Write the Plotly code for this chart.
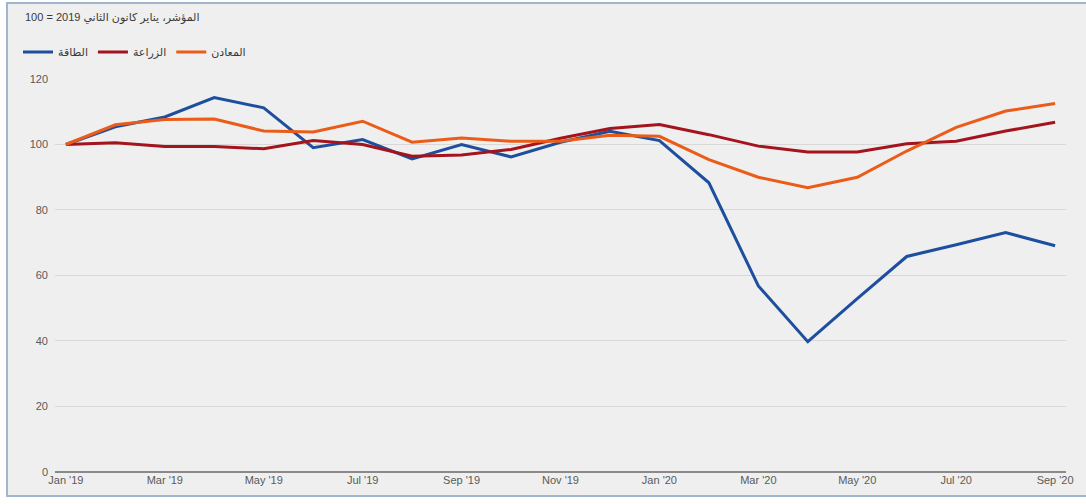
import plotly.graph_objects as go

# Monthly index, January 2019 = 100
months = ["Jan '19", "Feb '19", "Mar '19", "Apr '19", "May '19", "Jun '19", "Jul '19",
          "Aug '19", "Sep '19", "Oct '19", "Nov '19", "Dec '19", "Jan '20", "Feb '20",
          "Mar '20", "Apr '20", "May '20", "Jun '20", "Jul '20", "Aug '20", "Sep '20"]

energy = [100, 105.4, 108.4, 114.3, 111.2, 99.0, 101.5, 95.6, 100.0, 96.2, 100.7,
          104.0, 101.2, 88.3, 56.8, 39.8, 52.9, 65.8, 69.4, 73.1, 69.1]
agriculture = [100, 100.5, 99.4, 99.4, 98.7, 101.2, 100.0, 96.4, 96.8, 98.5, 101.9,
               104.9, 106.1, 103.0, 99.5, 97.7, 97.7, 100.2, 101.0, 104.1, 106.8]
metals = [100, 106.0, 107.6, 107.8, 104.1, 103.8, 107.1, 100.7, 102.0, 101.0, 101.0,
          102.8, 102.5, 95.4, 90.0, 86.8, 90.0, 98.0, 105.2, 110.2, 112.5]

series_names = ["الطاقة", "الزراعة", "المعادن"]
series_colors = ["#1d4f9e", "#a3141d", "#ea5c18"]
tick_months = months[::2]
y_ticks = [0, 20, 40, 60, 80, 100, 120]

title_text = "المؤشر، يناير كانون الثاني 2019 = 100"

fig = go.Figure()
for name, values, color in zip(series_names, [energy, agriculture, metals], series_colors):
    fig.add_trace(go.Scatter(
        x=months, y=values, name=name, mode="lines",
        line=dict(color=color, width=3),
    ))

font_family = "Arial, Liberation Sans, DejaVu Sans, sans-serif"

fig.update_layout(
    width=1086, height=504,
    margin=dict(l=55, r=20, t=78, b=32, autoexpand=False),
    paper_bgcolor="white",
    plot_bgcolor="rgba(0,0,0,0)",
    font=dict(family=font_family, size=11, color="#5a5a5a"),
    title=dict(
        text=title_text, x=25 / 1086, xref="container", xanchor="left",
        y=1 - 17 / 504, yref="container", yanchor="middle",
        font=dict(size=11, color="#3a3a3a"),
    ),
    legend=dict(
        orientation="h", x=18 / 1086, xref="container", xanchor="left",
        y=1 - 52 / 504, yref="container", yanchor="middle",
        font=dict(size=11, color="#3a3a3a"),
        bgcolor="rgba(0,0,0,0)", traceorder="normal",
    ),
    showlegend=True,
    xaxis=dict(
        type="category", range=[-0.22, 20.22],
        tickmode="array", tickvals=tick_months, ticktext=tick_months,
        showgrid=False, zeroline=False, showline=False, ticks="",
        tickfont=dict(size=11, color="#5a5a5a"),
    ),
    yaxis=dict(
        range=[0, 120.3], tickmode="array", tickvals=y_ticks,
        showgrid=True, gridcolor="#d8d8d8", gridwidth=1,
        zeroline=True, zerolinecolor="#8a8a8a", zerolinewidth=1.5,
        showline=False, ticks="", ticklabelstandoff=6,
        tickfont=dict(size=11, color="#5a5a5a"),
    ),
    shapes=[
        # panel background with thin frame
        dict(type="rect", xref="paper", yref="paper",
             x0=(7 - 55) / 1011, x1=(1092 - 55) / 1011,
             y0=(472 - 496) / 394, y1=(472 - 3) / 394,
             fillcolor="#efefef", line=dict(color="#9fb6cc", width=2),
             layer="below"),
    ],
)

fig.write_html("out.html")
